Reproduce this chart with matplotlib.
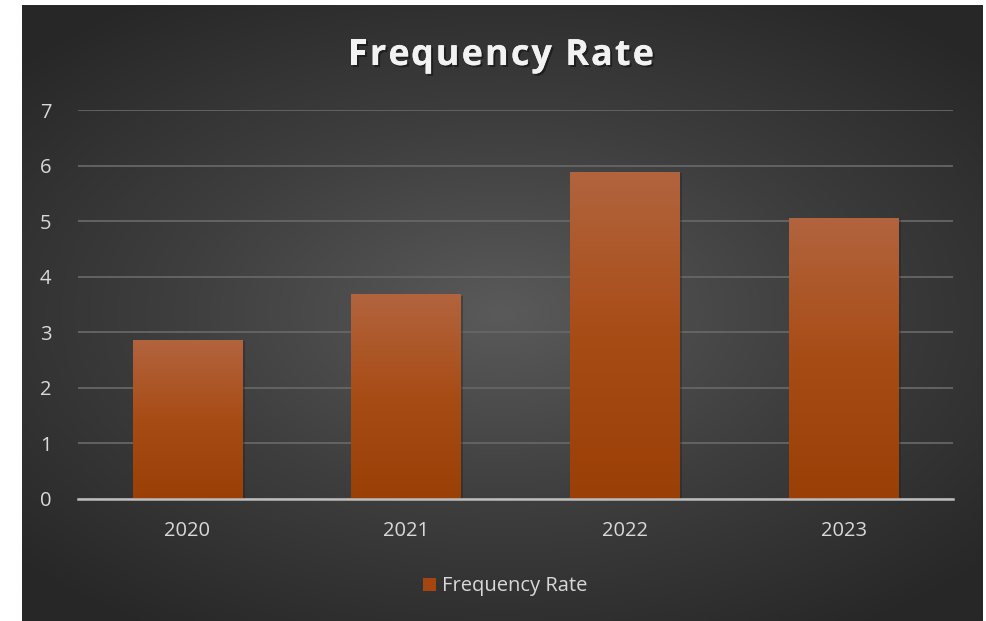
#!/usr/bin/env python3

import numpy as np
import matplotlib
matplotlib.use("Agg")
import matplotlib.pyplot as plt
import matplotlib.patheffects as pe
from matplotlib.colors import LinearSegmentedColormap
from matplotlib.patches import Rectangle
from matplotlib.font_manager import FontProperties

years = ["2020", "2021", "2022", "2023"]
frequency_rate = [2.87, 3.68, 5.88, 5.06]
y_ticks = [0, 1, 2, 3, 4, 5, 6, 7]
title = "Frequency Rate"
series_name = "Frequency Rate"

plt.rcParams['font.family'] = ['Open Sans', 'DejaVu Sans']

W, H = 987, 621
fig = plt.figure(figsize=(W / 100, H / 100), dpi=100)
fig.patch.set_facecolor("white")

# background panel with radial gradient
bg = fig.add_axes([22 / W, 0, 961 / W, 616 / H])
bg.set_axis_off()
yy, xx = np.mgrid[-1:1:300j, -1:1:480j]
r = np.sqrt((xx * 0.95) ** 2 + (yy * 1.05) ** 2)
bg_cmap = LinearSegmentedColormap.from_list("bg", ["#5a5a5a", "#3e3e3e", "#272727"])
bg.imshow(np.clip(r / 1.3, 0, 1), cmap=bg_cmap, aspect="auto", extent=[0, 1, 0, 1], vmin=0, vmax=1)
bg.set_xlim(0, 1)
bg.set_ylim(0, 1)

ax = fig.add_axes([78 / W, 1 - 499 / H, (953 - 78) / W, (499 - 110) / H])
ax.patch.set_alpha(0)

x = np.arange(len(years))
bar_cmap = LinearSegmentedColormap.from_list("bar", ["#9a3f06", "#a84c16", "#b2643e"])
grad = np.linspace(0, 1, 256).reshape(-1, 1)
bar_width = 0.5
for xi, val in zip(x, frequency_rate):
    # soft shadow
    ax.add_patch(Rectangle((xi - bar_width / 2 + 0.012, 0), bar_width, val - 0.02,
                           facecolor="#1e1e1e", alpha=0.35, edgecolor="none", zorder=2))
    im = ax.imshow(grad, cmap=bar_cmap, origin="lower", aspect="auto",
                   extent=[xi - bar_width / 2, xi + bar_width / 2, 0, val], zorder=3)
    clip = Rectangle((xi - bar_width / 2, 0), bar_width, val, transform=ax.transData)
    im.set_clip_path(clip)

ax.set_xlim(-0.5, len(years) - 0.5)
ax.set_ylim(0, 7)
ax.set_yticks(y_ticks)
ax.set_xticks(x)
ax.set_xticklabels(years)
ax.tick_params(axis="both", colors="#d9d9d9", labelsize=14.5, length=0)
ax.tick_params(axis="y", pad=19)
ax.tick_params(axis="x", pad=16)
ax.grid(axis="y", color="#666666", linewidth=1.3, zorder=1)
ax.set_axisbelow(True)
for s in ["top", "right", "left"]:
    ax.spines[s].set_visible(False)
ax.spines["bottom"].set_color("#bdbdbd")
ax.spines["bottom"].set_linewidth(1.8)
ax.spines["bottom"].set_zorder(4)

# title with extra letter spacing, drawn char by char
renderer = fig.canvas.get_renderer()
prop = FontProperties(family=['Open Sans', 'DejaVu Sans'], weight="bold", size=26)
spacing = 2.0  # px between letters


def text_w(s):
    if not s:
        return 0.0
    w, _, _ = renderer.get_text_width_height_descent(s, prop, ismath=False)
    return w


total = text_w(title) + spacing * (len(title) - 1)
x0 = 501 - total / 2
shadow = [pe.withSimplePatchShadow(offset=(1.5, -1.5), shadow_rgbFace="#111111", alpha=0.6), pe.Normal()]
for i, ch in enumerate(title):
    if ch == " ":
        continue
    cx = x0 + text_w(title[:i]) + spacing * i
    fig.text(cx / W, 1 - 65 / H, ch, ha="left", va="baseline", fontproperties=prop,
             color="#f2f2f2", path_effects=shadow)

# legend
fig.patches.append(Rectangle((423 / W, 1 - 591 / H), 13 / W, 13 / H,
                             transform=fig.transFigure, facecolor="#a5450f",
                             edgecolor="none", figure=fig))
fig.text(442 / W, 1 - 591 / H, series_name, ha="left", va="baseline",
         fontsize=14.5, color="#d9d9d9")

plt.savefig("out.png", dpi=100, facecolor=fig.get_facecolor())
